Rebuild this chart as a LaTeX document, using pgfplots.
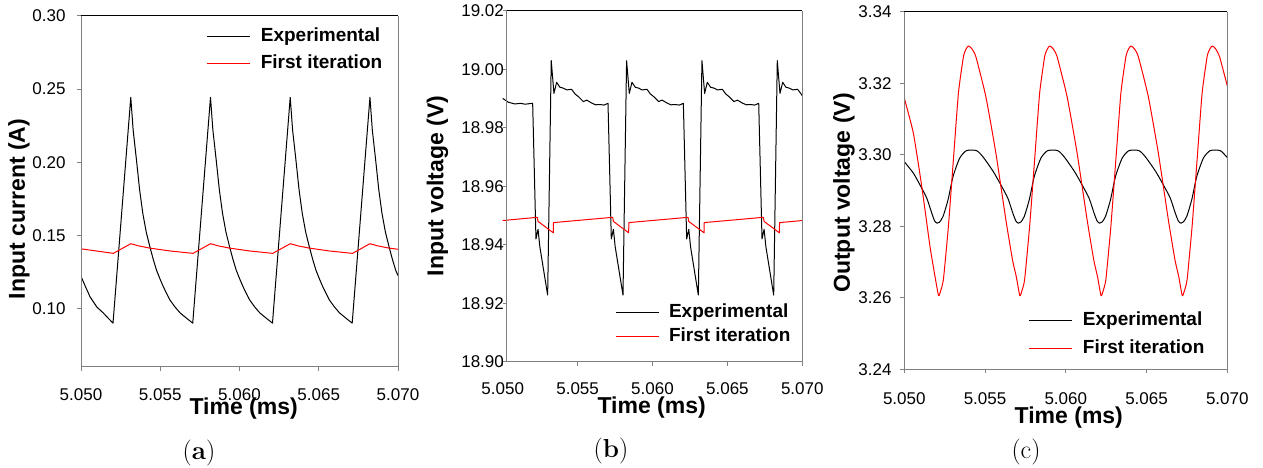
\documentclass[border=0pt]{standalone}
\usepackage{fontspec}
\setsansfont{Liberation Sans}
\usepackage{pgfplots}
\pgfplotsset{compat=1.18}
\definecolor{axgray}{RGB}{128,128,128}
\pgfplotsset{
 myaxis/.style={
  scale only axis, anchor=south west, clip mode=individual,
  xmin=5.05, xmax=5.07,
  xtick={5.05,5.055,5.06,5.065,5.07},
  xticklabels={5.050,5.055,5.060,5.065,5.070},
  tick pos=left, tick align=outside, major tick length=4pt,
  every tick/.style={axgray, line width=1pt},
  axis line style={draw=none},
  ticklabel style={font=\sffamily\fontsize{17}{20}\selectfont},
  legend cell align=left,
  legend image code/.code={\draw[##1] (0pt,0pt) -- (43pt,0pt);},
  legend style={draw=none, fill=none, anchor=west,
    font=\sffamily\bfseries\fontsize{19}{22}\selectfont,
    nodes={inner sep=0pt, text height=14pt, text depth=4pt},
    column sep=10pt, row sep=8pt, inner sep=0pt, outer sep=0pt},
 },
 expline/.style={black, line width=1pt, line join=round},
 simline/.style={red, line width=1pt, line join=round},
}
\newcommand{\labfont}{\sffamily\bfseries\fontsize{23}{27}\selectfont}
\begin{document}
\begin{tikzpicture}
\path[use as bounding box] (0pt,0pt) rectangle (1263pt,468pt);
% ---------------- (a)
\begin{axis}[myaxis, at={(81pt,101pt)}, width=317pt, height=351pt,
  ymin=0.06, ymax=0.30,
  ytick={0.10,0.15,0.20,0.25,0.30}, yticklabels={0.10,0.15,0.20,0.25,0.30},
  yticklabel style={xshift=-8pt},
  xticklabel style={yshift=-14.2pt},
  legend style={at={(axis description cs:0.397,0.903)}, row sep=9pt}]
\addplot[expline] coordinates {
(5.05000,0.122) (5.05030,0.1145) (5.05057,0.108) (5.05100,0.101) (5.05140,0.097) (5.05175,0.093) (5.05202,0.090)
(5.05314,0.2444) (5.05329,0.222) (5.05350,0.2015) (5.05370,0.181) (5.05390,0.165) (5.05412,0.152) (5.05435,0.142) (5.05456,0.1335) (5.05477,0.126) (5.05498,0.1203) (5.05519,0.115) (5.05540,0.1103) (5.05560,0.106) (5.05592,0.1012) (5.05625,0.097) (5.05670,0.093) (5.05705,0.090)
(5.05817,0.2444) (5.05832,0.222) (5.05853,0.2015) (5.05873,0.181) (5.05893,0.165) (5.05915,0.152) (5.05938,0.142) (5.05959,0.1335) (5.05980,0.126) (5.06001,0.1203) (5.06022,0.115) (5.06043,0.1103) (5.06063,0.106) (5.06095,0.1012) (5.06128,0.097) (5.06173,0.093) (5.06208,0.090)
(5.06320,0.2444) (5.06335,0.222) (5.06356,0.2015) (5.06376,0.181) (5.06396,0.165) (5.06418,0.152) (5.06441,0.142) (5.06462,0.1335) (5.06483,0.126) (5.06504,0.1203) (5.06525,0.115) (5.06546,0.1103) (5.06566,0.106) (5.06598,0.1012) (5.06631,0.097) (5.06676,0.093) (5.06711,0.090)
(5.06823,0.2444) (5.06838,0.222) (5.06859,0.2015) (5.06879,0.181) (5.06899,0.165) (5.06921,0.152) (5.06944,0.142) (5.06965,0.1335) (5.06986,0.126) (5.07000,0.1225)
};
\addlegendentry{Experimental}
\addplot[simline] coordinates {
(5.05000,0.1408) (5.05204,0.1377) (5.05314,0.1443) (5.05364,0.1428) (5.05434,0.1413) (5.05564,0.1393)
(5.05707,0.1377) (5.05817,0.1443) (5.05867,0.1428) (5.05937,0.1413) (5.06067,0.1393)
(5.06210,0.1377) (5.06320,0.1443) (5.06370,0.1428) (5.06440,0.1413) (5.06570,0.1393)
(5.06713,0.1377) (5.06823,0.1443) (5.06873,0.1428) (5.06943,0.1413) (5.07000,0.1405)
};
\addlegendentry{First iteration}
\draw[axgray, line width=1pt] (rel axis cs:0,1) -- (rel axis cs:0,0) -- (rel axis cs:1,0) -- (rel axis cs:1,1);
\draw[black, line width=1pt] (rel axis cs:0,1) -- (rel axis cs:1,1);
\end{axis}
% ---------------- (b)
\begin{axis}[myaxis, at={(502.7pt,106.3pt)}, width=299.6pt, height=350.7pt,
  ymin=18.90, ymax=19.02,
  ytick={18.90,18.92,18.94,18.96,18.98,19.00,19.02},
  yticklabels={18.90,18.92,18.94,18.96,18.98,19.00,19.02},
  y tick style={xshift=4pt},
  yticklabel style={xshift=8.7pt},
  xticklabel style={yshift=-13.2pt},
  legend style={at={(axis description cs:0.375,0.106)}, row sep=6pt}]
\addplot[expline] coordinates {
(5.05000,18.9901) (5.05037,18.9888) (5.05080,18.9882) (5.05120,18.9884) (5.05150,18.9881) (5.05194,18.9884)
(5.05200,18.9884) (5.05222,18.9420) (5.05236,18.9453) (5.05248,18.9393) (5.05300,18.9228) (5.05324,19.0030) (5.05342,18.9918) (5.05360,18.9956) (5.05382,18.9939) (5.05405,18.9936) (5.05427,18.9930) (5.05460,18.9932) (5.05483,18.9916) (5.05505,18.9907) (5.05538,18.9890) (5.05561,18.9895) (5.05594,18.9885) (5.05620,18.9879) (5.05650,18.9880) (5.05675,18.9878) (5.05694,18.9882)
(5.05703,18.9884) (5.05725,18.9420) (5.05739,18.9453) (5.05751,18.9393) (5.05803,18.9228) (5.05827,19.0030) (5.05845,18.9918) (5.05863,18.9956) (5.05885,18.9939) (5.05908,18.9936) (5.05930,18.9930) (5.05963,18.9932) (5.05986,18.9916) (5.06008,18.9907) (5.06041,18.9890) (5.06064,18.9895) (5.06097,18.9885) (5.06123,18.9879) (5.06153,18.9880) (5.06178,18.9878) (5.06197,18.9882)
(5.06206,18.9884) (5.06228,18.9420) (5.06242,18.9453) (5.06254,18.9393) (5.06306,18.9228) (5.06330,19.0030) (5.06348,18.9918) (5.06366,18.9956) (5.06388,18.9939) (5.06411,18.9936) (5.06433,18.9930) (5.06466,18.9932) (5.06489,18.9916) (5.06511,18.9907) (5.06544,18.9890) (5.06567,18.9895) (5.06600,18.9885) (5.06626,18.9879) (5.06656,18.9880) (5.06681,18.9878) (5.06700,18.9882)
(5.06709,18.9884) (5.06731,18.9420) (5.06745,18.9453) (5.06757,18.9393) (5.06809,18.9228) (5.06833,19.0030) (5.06851,18.9918) (5.06869,18.9956) (5.06891,18.9939) (5.06914,18.9936) (5.06936,18.9930) (5.06969,18.9932) (5.06992,18.9916) (5.07000,18.9910)
};
\addlegendentry{Experimental}
\addplot[simline] coordinates {
(5.05000,18.9483) (5.05231,18.9494) (5.05236,18.9480) (5.05338,18.9441) (5.05339,18.9476)
(5.05734,18.9494) (5.05739,18.9480) (5.05841,18.9441) (5.05842,18.9476)
(5.06237,18.9494) (5.06242,18.9480) (5.06344,18.9441) (5.06345,18.9476)
(5.06740,18.9494) (5.06745,18.9480) (5.06847,18.9441) (5.06848,18.9476)
(5.07000,18.9483)
};
\addlegendentry{First iteration}
\draw[axgray, line width=1pt] ([xshift=4pt]rel axis cs:0,1) -- ([xshift=4pt]rel axis cs:0,0);
\draw[axgray, line width=1pt] (rel axis cs:0,0) -- (rel axis cs:1,0) -- (rel axis cs:1,1);
\draw[black, line width=1pt] ([xshift=4pt]rel axis cs:0,1) -- (rel axis cs:1,1);
\end{axis}
% ---------------- (c)
\begin{axis}[myaxis, at={(904.3pt,98.7pt)}, width=323pt, height=357.3pt,
  ymin=3.24, ymax=3.34,
  ytick={3.24,3.26,3.28,3.30,3.32,3.34},
  yticklabels={3.24,3.26,3.28,3.30,3.32,3.34},
  yticklabel style={xshift=-5.3pt},
  xticklabel style={yshift=-15.6pt},
  legend style={at={(axis description cs:0.386,0.097)}, row sep=9.5pt}]
\addplot[expline, smooth, tension=0.4] coordinates {
(5.05000,3.2981) (5.05056,3.2949) (5.05097,3.2916) (5.05139,3.2879) (5.05170,3.2837) (5.05188,3.2815) (5.05203,3.2809)
(5.05218,3.2812) (5.05240,3.2828) (5.05271,3.2875) (5.05302,3.2940) (5.05343,3.2991) (5.05385,3.3012) (5.05447,3.3012) (5.05488,3.2994) (5.05550,3.2954) (5.05598,3.2916) (5.05641,3.2879) (5.05672,3.2837) (5.05691,3.2815) (5.05706,3.2809)
(5.05721,3.2812) (5.05743,3.2828) (5.05774,3.2875) (5.05805,3.2940) (5.05846,3.2991) (5.05888,3.3012) (5.05950,3.3012) (5.05991,3.2994) (5.06053,3.2954) (5.06101,3.2916) (5.06144,3.2879) (5.06175,3.2837) (5.06194,3.2815) (5.06209,3.2809)
(5.06224,3.2812) (5.06246,3.2828) (5.06277,3.2875) (5.06308,3.2940) (5.06349,3.2991) (5.06391,3.3012) (5.06453,3.3012) (5.06494,3.2994) (5.06556,3.2954) (5.06604,3.2916) (5.06647,3.2879) (5.06678,3.2837) (5.06697,3.2815) (5.06712,3.2809)
(5.06727,3.2812) (5.06749,3.2828) (5.06780,3.2875) (5.06811,3.2940) (5.06852,3.2991) (5.06894,3.3012) (5.06956,3.3012) (5.06997,3.2994) (5.07000,3.2993)
};
\addlegendentry{Experimental}
\addplot[simline, smooth, tension=0.3] coordinates {
(5.05000,3.3159) (5.05056,3.3061) (5.05108,3.2912) (5.05159,3.2744) (5.05190,3.2660) (5.05212,3.2606)
(5.05224,3.2618) (5.05242,3.2651) (5.05273,3.2800) (5.05304,3.2987) (5.05335,3.3173) (5.05366,3.3275) (5.05382,3.3296) (5.05397,3.3305) (5.05417,3.3298) (5.05443,3.3275) (5.05505,3.3163) (5.05567,3.3005) (5.05629,3.2818) (5.05670,3.2706) (5.05693,3.2660) (5.05715,3.2606)
(5.05727,3.2618) (5.05745,3.2651) (5.05776,3.2800) (5.05807,3.2987) (5.05838,3.3173) (5.05869,3.3275) (5.05885,3.3296) (5.05900,3.3305) (5.05920,3.3298) (5.05946,3.3275) (5.06008,3.3163) (5.06070,3.3005) (5.06132,3.2818) (5.06173,3.2706) (5.06196,3.2660) (5.06218,3.2606)
(5.06230,3.2618) (5.06248,3.2651) (5.06279,3.2800) (5.06310,3.2987) (5.06341,3.3173) (5.06372,3.3275) (5.06388,3.3296) (5.06403,3.3305) (5.06423,3.3298) (5.06449,3.3275) (5.06511,3.3163) (5.06573,3.3005) (5.06635,3.2818) (5.06676,3.2706) (5.06699,3.2660) (5.06721,3.2606)
(5.06733,3.2618) (5.06751,3.2651) (5.06782,3.2800) (5.06813,3.2987) (5.06844,3.3173) (5.06875,3.3275) (5.06891,3.3296) (5.06906,3.3305) (5.06926,3.3298) (5.06952,3.3275) (5.07000,3.3193)
};
\addlegendentry{First iteration}
\draw[axgray, line width=1pt] (rel axis cs:0,1) -- (rel axis cs:0,0) -- (rel axis cs:1,0) -- (rel axis cs:1,1);
\draw[black, line width=1pt] (rel axis cs:0,1) -- (rel axis cs:1,1);
\end{axis}
% ---------------- labels
\node[rotate=90, font=\labfont] at (19pt,259pt) {Input current (A)};
\node[rotate=90, font=\labfont] at (437.5pt,282pt) {Input voltage (V)};
\node[rotate=90, font=\labfont] at (844pt,275pt) {Output voltage (V)};
\node[font=\labfont] at (243.7pt,59pt) {Time (ms)};
\node[font=\labfont] at (651.7pt,60.5pt) {Time (ms)};
\node[font=\labfont] at (1068.8pt,50pt) {Time (ms)};
\node[font=\fontsize{26}{30}\selectfont] at (199pt,15.3pt) {(\textbf{a})};
\node[font=\fontsize{26}{30}\selectfont] at (611pt,17.3pt) {(\textbf{b})};
\node[font=\fontsize{26}{30}\selectfont] at (1026pt,16.3pt) {(c)};
\end{tikzpicture}
\end{document}
